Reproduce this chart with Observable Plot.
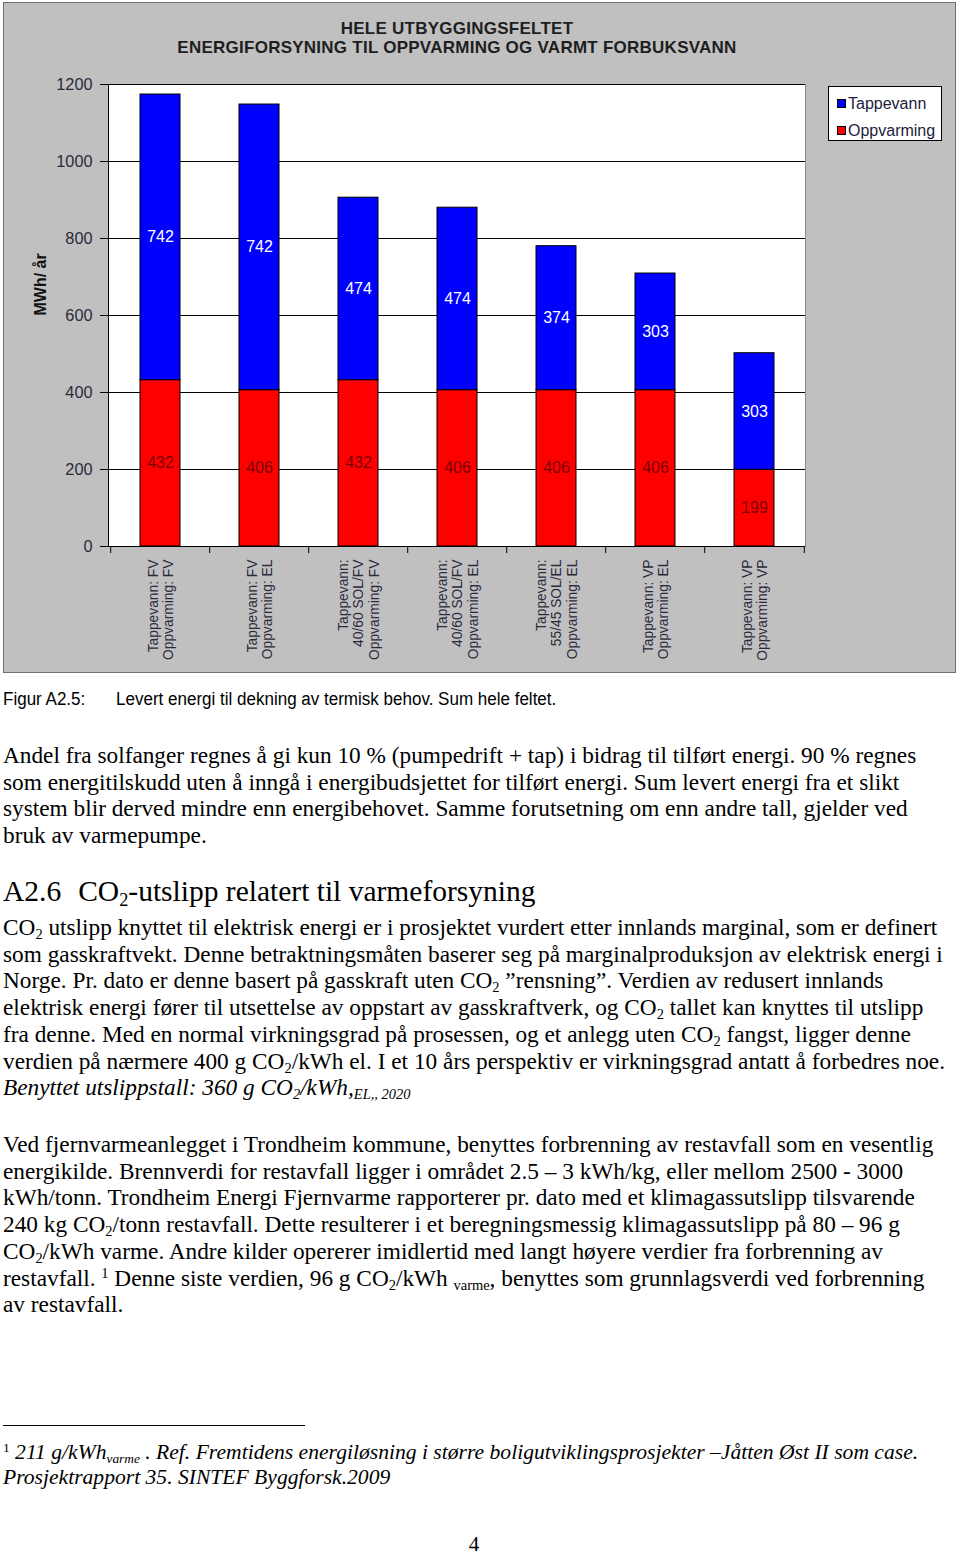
<!DOCTYPE html>
<html>
<head>
<meta charset="utf-8">
<script src="https://cdn.jsdelivr.net/npm/d3@7"></script>
<script src="https://cdn.jsdelivr.net/npm/@observablehq/plot@0.6"></script>
<style>
  html, body { margin: 0; padding: 0; background: #fff; }
  body { width: 960px; height: 1554px; position: relative; overflow: hidden; }
  #chart { position: absolute; left: 3px; top: 2px; width: 951px; height: 669px;
           background: #c0c0c0; border: 1px solid #707070; }
  #chart svg { position: absolute; left: 0; top: 0; }
  .ctitle { position: absolute; left: 0; width: 906px; text-align: center;
            font-family: "Liberation Sans", Arial, sans-serif; font-weight: bold;
            font-size: 17px; letter-spacing: 0.25px; color: #1e1e1e; line-height: 19px; }
  #legend { position: absolute; left: 824px; top: 83px; width: 112px; height: 53px;
            background: #fff; border: 1px solid #000;
            font-family: "Liberation Sans", Arial, sans-serif; font-size: 16px; color: #201c3c; }
  #legend .item { position: absolute; left: 8px; height: 18px; line-height: 18px; white-space: nowrap; }
  #legend .sw { display: inline-block; width: 7px; height: 7px; border: 1px solid #000;
                vertical-align: 1px; margin-right: 2px; }
  .serif { font-family: "Liberation Serif", "Times New Roman", serif; color: #000; }
  .block { position: absolute; left: 3px; white-space: pre; }
  .body { font-size: 23.3px; line-height: 26.7px; }
  sub, sup { font-size: 0.62em; line-height: 0; position: relative; vertical-align: baseline; }
  sub { top: 0.28em; }
  sup { top: -0.5em; }
  .cap { position: absolute; top: 689px; font-family: "Liberation Sans", Arial, sans-serif;
         font-size: 18px; line-height: 20px; white-space: pre; transform: scaleX(0.945);
         transform-origin: 0 0; color: #000; }
</style>
</head>
<body>
<div id="chart">
  <div class="ctitle" style="top:16px">HELE UTBYGGINGSFELTET</div>
  <div class="ctitle" style="top:35px">ENERGIFORSYNING TIL OPPVARMING OG VARMT FORBUKSVANN</div>
  <div id="legend">
    <div class="item" style="top:8px"><span class="sw" style="background:#0000ff"></span>Tappevann</div>
    <div class="item" style="top:35px"><span class="sw" style="background:#ff0000"></span>Oppvarming</div>
  </div>
</div>

<div class="cap" style="left:3px">Figur A2.5:</div>
<div class="cap" style="left:116px">Levert energi til dekning av termisk behov. Sum hele feltet.</div>

<div class="block serif body" style="top:742px">Andel fra solfanger regnes å gi kun 10 % (pumpedrift + tap) i bidrag til tilført energi. 90 % regnes
som energitilskudd uten å inngå i energibudsjettet for tilført energi. Sum levert energi fra et slikt
system blir derved mindre enn energibehovet. Samme forutsetning om enn andre tall, gjelder ved
bruk av varmepumpe.</div>

<div class="block serif" style="top:874px;font-size:29.5px;line-height:34px">A2.6<span style="display:inline-block;width:17px"></span>CO<sub>2</sub>-utslipp relatert til varmeforsyning</div>

<div class="block serif body" style="top:914px">CO<sub>2</sub> utslipp knyttet til elektrisk energi er i prosjektet vurdert etter innlands marginal, som er definert
som gasskraftvekt. Denne betraktningsmåten baserer seg på marginalproduksjon av elektrisk energi i
Norge. Pr. dato er denne basert på gasskraft uten CO<sub>2</sub> ”rensning”. Verdien av redusert innlands
elektrisk energi fører til utsettelse av oppstart av gasskraftverk, og CO<sub>2</sub> tallet kan knyttes til utslipp
fra denne. Med en normal virkningsgrad på prosessen, og et anlegg uten CO<sub>2</sub> fangst, ligger denne
verdien på nærmere 400 g CO<sub>2</sub>/kWh el. I et 10 års perspektiv er virkningsgrad antatt å forbedres noe.
<i>Benyttet utslippstall: 360 g CO<sub>2</sub>/kWh,<sub>EL,, 2020</sub></i></div>

<div class="block serif body" style="top:1131px">Ved fjernvarmeanlegget i Trondheim kommune, benyttes forbrenning av restavfall som en vesentlig
energikilde. Brennverdi for restavfall ligger i området 2.5 – 3 kWh/kg, eller mellom 2500 - 3000
kWh/tonn. Trondheim Energi Fjernvarme rapporterer pr. dato med et klimagassutslipp tilsvarende
240 kg CO<sub>2</sub>/tonn restavfall. Dette resulterer i et beregningsmessig klimagassutslipp på 80 – 96 g
CO<sub>2</sub>/kWh varme. Andre kilder opererer imidlertid med langt høyere verdier fra forbrenning av
restavfall. <sup>1</sup> Denne siste verdien, 96 g CO<sub>2</sub>/kWh <sub>varme</sub>, benyttes som grunnlagsverdi ved forbrenning
av restavfall.</div>

<div style="position:absolute;left:3px;top:1425px;width:302px;height:1px;background:#000"></div>

<div class="block serif" style="top:1440px;font-size:21.6px;line-height:25px"><sup>1</sup> <i>211 g/kWh<sub>varme</sub> . Ref. Fremtidens energiløsning i større boligutviklingsprosjekter –Jåtten Øst II som case.
Prosjektrapport 35. SINTEF Byggforsk.2009</i></div>

<div class="serif" style="position:absolute;left:464px;width:20px;text-align:center;top:1534px;font-size:21px;line-height:21px">4</div>

<script>
// ---- data ----
const categories = [
  "Tappevann: FV\nOppvarming: FV",
  "Tappevann: FV\nOppvarming: EL",
  "Tappevann:\n40/60 SOL/FV\nOppvarming: FV",
  "Tappevann:\n40/60 SOL/FV\nOppvarming: EL",
  "Tappevann:\n55/45 SOL/EL\nOppvarming: EL",
  "Tappevann: VP\nOppvarming: EL",
  "Tappevann: VP\nOppvarming: VP"
];
const seriesNames = ["Tappevann", "Oppvarming"];
const oppvarming = [432, 406, 432, 406, 406, 406, 199];
const tappevann = [742, 742, 474, 474, 374, 303, 303];
const yTicks = [0, 200, 400, 600, 800, 1000, 1200];

const rows = categories.flatMap((c, i) => [
  {cat: c, series: "Oppvarming", value: oppvarming[i]},
  {cat: c, series: "Tappevann", value: tappevann[i]}
]);

const W = 951, H = 669;
const mL = 104, mR = 150, mT = 81, mB = 126;
const plotW = W - mL - mR, plotH = H - mT - mB;
const step = plotW / categories.length; // band step (paddingInner 0.6, paddingOuter 0.3)

const chart = Plot.plot({
  width: W,
  height: H,
  marginLeft: mL, marginRight: mR, marginTop: mT, marginBottom: mB,
  style: {background: "transparent", fontFamily: "'Liberation Sans', Arial, sans-serif", color: "#222"},
  x: {domain: categories, paddingInner: 0.6, paddingOuter: 0.3},
  y: {domain: [0, 1200]},
  color: {domain: seriesNames, range: ["#0000ff", "#ff0000"]},
  marks: [
    Plot.frame({fill: "white", stroke: "none"}),
    Plot.gridY({ticks: yTicks, stroke: "#000", strokeOpacity: 1}),
    Plot.frame({anchor: "right", stroke: "#8a8a8a"}),
    Plot.barY(rows, {x: "cat", y: "value", fill: "series", stroke: "#000", strokeWidth: 1}),
    Plot.text(rows, Plot.stackY({x: "cat", y: "value", z: "series",
      text: d => d.series === "Tappevann" ? String(d.value) : null,
      fill: "white", fontSize: 16})),
    Plot.text(rows, Plot.stackY({x: "cat", y: "value", z: "series",
      text: d => d.series === "Oppvarming" ? String(d.value) : null,
      fill: "#7a0000", fontSize: 16})),
    Plot.frame({anchor: "left", stroke: "#000"}),
    Plot.ruleY([0], {stroke: "#000"}),
    Plot.ruleX(categories, {x: d => d, dx: -step / 2, insetTop: plotH, insetBottom: -7, stroke: "#000"}),
    Plot.ruleX(categories.slice(-1), {x: d => d, dx: step / 2, insetTop: plotH, insetBottom: -7, stroke: "#000"}),
    Plot.axisY({ticks: yTicks, tickFormat: d => String(d), tickSize: 8, tickPadding: 8, fontSize: 16.3,
      label: null, stroke: "#000", fill: "#2b2b3b"}),
    Plot.axisX({tickSize: 0, tickPadding: 13, tickRotate: -90, fontSize: 13.8, lineHeight: 1.1,
      textAnchor: "end", lineAnchor: "middle", label: null, fill: "#2a2a3a"}),
    Plot.text(["MWh/ år"], {text: d => d, frameAnchor: "left", dx: -68, rotate: -90,
      fontWeight: "bold", fontSize: 16, fill: "#111"})
  ]
});
document.getElementById("chart").appendChild(chart);
</script>
</body>
</html>
